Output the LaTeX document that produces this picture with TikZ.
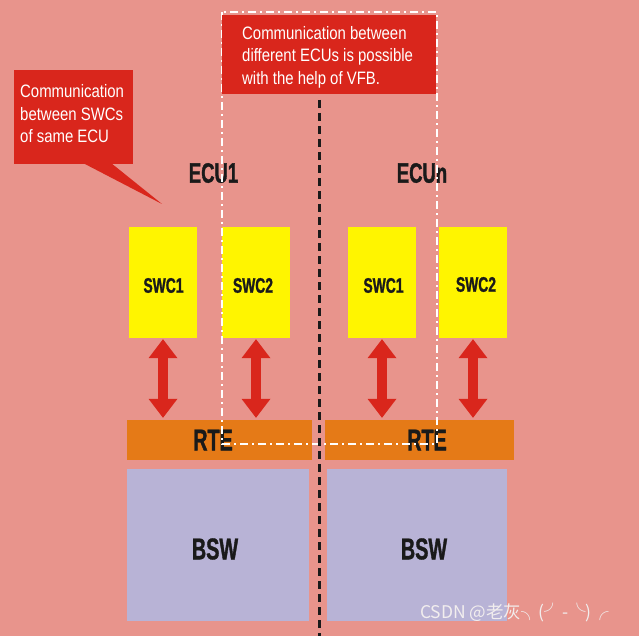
\documentclass[tikz,border=0pt]{standalone}
\usepackage{fontspec}
\setmainfont{Liberation Sans}
\newfontfamily\condfont[FakeStretch=0.66,FakeBold=1.2]{Liberation Sans Bold}
\newfontfamily\callfont[FakeStretch=0.83]{Liberation Sans}
\newfontfamily\cjkfont{Noto Sans CJK SC}
\usetikzlibrary{arrows.meta}
\definecolor{bg}{HTML}{E8948C}
\definecolor{boxred}{HTML}{D9261C}
\definecolor{swcyellow}{HTML}{FFF500}
\definecolor{rteorange}{HTML}{E57A17}
\definecolor{bswlav}{HTML}{B8B3D6}
\definecolor{txt}{HTML}{1A1A1A}
\definecolor{wm}{HTML}{F2EEEE}
\tikzset{
  swcbox/.style={fill=swcyellow, minimum width=68pt, minimum height=111pt, inner sep=0pt},
  rtebox/.style={fill=rteorange, minimum height=40pt, inner sep=0pt},
  bswbox/.style={fill=bswlav, minimum height=152pt, inner sep=0pt},
  redbox/.style={fill=boxred, inner sep=0pt, anchor=north west},
  swclbl/.style={text=txt, inner sep=0pt, font=\condfont\fontsize{21}{21}\selectfont},
  ecului/.style={text=txt, inner sep=0pt, font=\condfont\fontsize{28}{28}\selectfont},
  biglbl/.style={text=txt, inner sep=0pt, font=\condfont\fontsize{30}{30}\selectfont},
  calltext/.style={text=white, inner sep=0pt, anchor=west, align=left, font=\callfont\fontsize{18}{22.5}\selectfont},
  dblarrow/.style={draw=boxred, line width=10pt,
    {Triangle[width=29pt,length=19pt,line width=0pt]}-{Triangle[width=29pt,length=19pt,line width=0pt]}},
  vfbline/.style={draw=white, line width=2pt, dash pattern=on 8pt off 4pt on 2pt off 4pt},
  ecusep/.style={draw=txt, line width=3pt, dash pattern=on 8pt off 5pt}
}
\begin{document}
\begin{tikzpicture}[x=1pt,y=-1pt]
\useasboundingbox (0,0) rectangle (639,636);
\fill[bg] (0,0) rectangle (639,636);

% SWC boxes
\node[swcbox] (swcA) at (163,282.5) {};
\node[swcbox] (swcB) at (256,282.5) {};
\node[swcbox] (swcC) at (382,282.5) {};
\node[swcbox] (swcD) at (473,282.5) {};
\node[swclbl] (swcAl) at (163.5,285.5) {SWC1};
\node[swclbl] (swcBl) at (253,285.5) {SWC2};
\node[swclbl] (swcCl) at (383.5,285.5) {SWC1};
\node[swclbl] (swcDl) at (476,284.5) {SWC2};

% RTE boxes
\node[rtebox, minimum width=185pt] (rteA) at (219.5,440) {};
\node[rtebox, minimum width=189pt] (rteB) at (419.5,440) {};
\node[biglbl] (rteAl) at (213,440) {RTE};
\node[biglbl] (rteBl) at (427,440) {RTE};

% BSW boxes
\node[bswbox, minimum width=182pt] (bswA) at (218,545) {};
\node[bswbox, minimum width=180pt] (bswB) at (417,545) {};
\node[biglbl] (bswAl) at (215,549) {BSW};
\node[biglbl] (bswBl) at (424,549) {BSW};

% ECU labels
\node[ecului] (ecu1) at (213.5,173) {ECU1};
\node[ecului] (ecun) at (422,173) {ECUn};

% double arrows SWC <-> RTE
\draw[dblarrow] ([yshift=-1pt]swcA.south) -- ([yshift=2pt]swcA.south |- rteA.north);
\draw[dblarrow] ([yshift=-1pt]swcB.south) -- ([yshift=2pt]swcB.south |- rteA.north);
\draw[dblarrow] ([yshift=-1pt]swcC.south) -- ([yshift=2pt]swcC.south |- rteB.north);
\draw[dblarrow] ([yshift=-1pt]swcD.south) -- ([yshift=2pt]swcD.south |- rteB.north);

% VFB dash-dot frame
\draw[vfbline] (222,12) rectangle (437,444);

% callouts
\node[redbox, minimum width=214pt, minimum height=79pt] (vfbbox) at (222,15) {};
\node[calltext] (vfbtxt) at (242,57) {Communication between\\different ECUs is possible\\with the help of VFB.};

\node[redbox, minimum width=119pt, minimum height=94pt] (swcbox) at (14,70) {};
\coordinate (calltip) at (162,204);
\fill[boxred] (83,163) -- (calltip) -- (111,163) -- cycle;
\node[calltext] (swctxt) at (20,114) {Communication\\between SWCs\\of same ECU};

% ECU separator
\draw[ecusep] (319,100) -- (319,636);

% watermark
\node[anchor=west, inner sep=0pt, text=wm, font=\cjkfont\fontsize{17.5}{17.5}\selectfont] (wmk) at (420,613) {CSDN @老灰╮(╯-╰)╭};
\end{tikzpicture}
\end{document}
